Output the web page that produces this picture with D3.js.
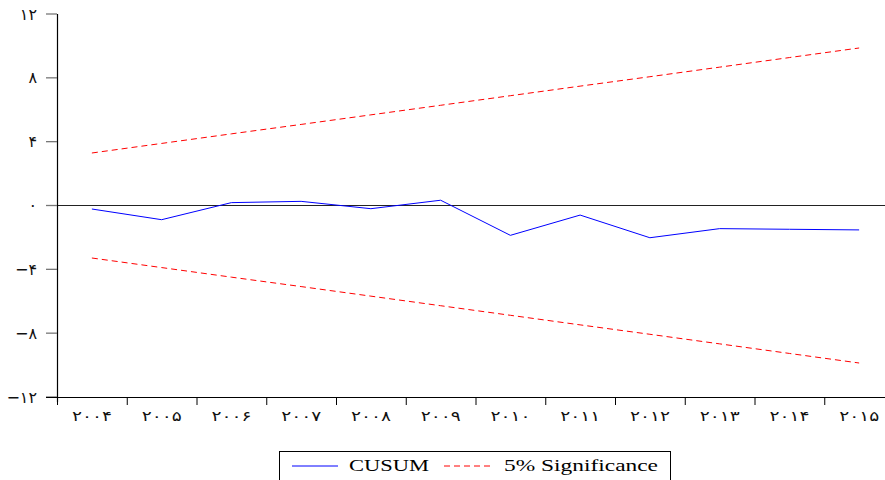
<!DOCTYPE html>
<html><head><meta charset="utf-8">
<script src="https://cdn.jsdelivr.net/npm/d3@7"></script>
<style>html,body{margin:0;padding:0;background:#fff;overflow:hidden}</style>
</head><body>
<svg id="c" width="885" height="480"></svg>
<script>
const years = [2004,2005,2006,2007,2008,2009,2010,2011,2012,2013,2014,2015];
const yearLabels = ["۲۰۰۴","۲۰۰۵","۲۰۰۶","۲۰۰۷","۲۰۰۸","۲۰۰۹","۲۰۱۰","۲۰۱۱","۲۰۱۲","۲۰۱۳","۲۰۱۴","۲۰۱۵"];
const cusum = [-0.22,-0.89,0.18,0.26,-0.2,0.33,-1.87,-0.6,-2.02,-1.45,-1.49,-1.53];
const upper = [3.29,3.89,4.49,5.08,5.68,6.28,6.88,7.48,8.07,8.67,9.27,9.87];
const lower = [-3.29,-3.89,-4.49,-5.08,-5.68,-6.28,-6.88,-7.48,-8.07,-8.67,-9.27,-9.87];
const yTicks = [12,8,4,0,-4,-8,-12];
const yTickLabels = ["۱۲","۸","۴","۰","−۴","−۸","−۱۲"];

const svg = d3.select("#c");
const x = d3.scaleBand().domain(years).range([57,894]).padding(0);
const y = d3.scaleLinear().domain([-12,12]).range([397,14]);
const cx = d => x(d) + x.bandwidth()/2;

// zero line
svg.append("line").attr("x1",57).attr("x2",885).attr("y1",y(0)).attr("y2",y(0))
  .attr("stroke","#222").attr("stroke-width",1.2);

// y axis
svg.append("line").attr("x1",57.5).attr("x2",57.5).attr("y1",14).attr("y2",402)
  .attr("stroke","#000").attr("stroke-width",1.2);
yTicks.forEach((t,i)=>{
  svg.append("line").attr("x1",46).attr("x2",57).attr("y1",y(t)).attr("y2",y(t))
    .attr("stroke","#777").attr("stroke-width",1.3);
  svg.append("text").attr("x",37).attr("y",y(t)).attr("dy","0.35em")
    .attr("text-anchor","end").attr("font-family","DejaVu Sans").attr("font-size",16)
    .attr("fill","#111").text(yTickLabels[i]);
});

// x axis
svg.append("line").attr("x1",46).attr("x2",885).attr("y1",397.5).attr("y2",397.5)
  .attr("stroke","#000").attr("stroke-width",1.2);
years.forEach((yr,i)=>{
  svg.append("line").attr("x1",x(yr)+0.5).attr("x2",x(yr)+0.5).attr("y1",397).attr("y2",405)
    .attr("stroke","#000").attr("stroke-width",1);
  svg.append("text").attr("x",cx(yr)).attr("y",421)
    .attr("text-anchor","middle").attr("font-family","DejaVu Sans").attr("font-size",14)
    .attr("textLength",40).attr("lengthAdjust","spacingAndGlyphs")
    .attr("fill","#111").text(yearLabels[i]);
});

const line = d3.line().x((d,i)=>cx(years[i])).y(d=>y(d));
svg.append("path").attr("d",line(upper)).attr("fill","none").attr("stroke","#ff0000")
  .attr("stroke-width",1).attr("stroke-dasharray","6,4");
svg.append("path").attr("d",line(lower)).attr("fill","none").attr("stroke","#ff0000")
  .attr("stroke-width",1).attr("stroke-dasharray","6,4");
svg.append("path").attr("d",line(cusum)).attr("fill","none").attr("stroke","#0000ff")
  .attr("stroke-width",1);

// legend
const lg = svg.append("g");
lg.append("rect").attr("x",279.5).attr("y",451.5).attr("width",391).attr("height",40)
  .attr("fill","#fff").attr("stroke","#000").attr("stroke-width",1);
lg.append("line").attr("x1",292).attr("x2",338).attr("y1",466).attr("y2",466)
  .attr("stroke","#0000ff").attr("stroke-width",1);
lg.append("text").attr("x",349).attr("y",471).attr("font-family","Liberation Serif")
  .attr("font-size",17).attr("textLength",80).attr("lengthAdjust","spacingAndGlyphs").text("CUSUM");
lg.append("line").attr("x1",444).attr("x2",491).attr("y1",466).attr("y2",466)
  .attr("stroke","#ff0000").attr("stroke-width",1).attr("stroke-dasharray","6,4");
lg.append("text").attr("x",504).attr("y",471).attr("font-family","Liberation Serif")
  .attr("font-size",17).attr("textLength",154).attr("lengthAdjust","spacingAndGlyphs").text("5% Significance");
</script>
</body></html>
